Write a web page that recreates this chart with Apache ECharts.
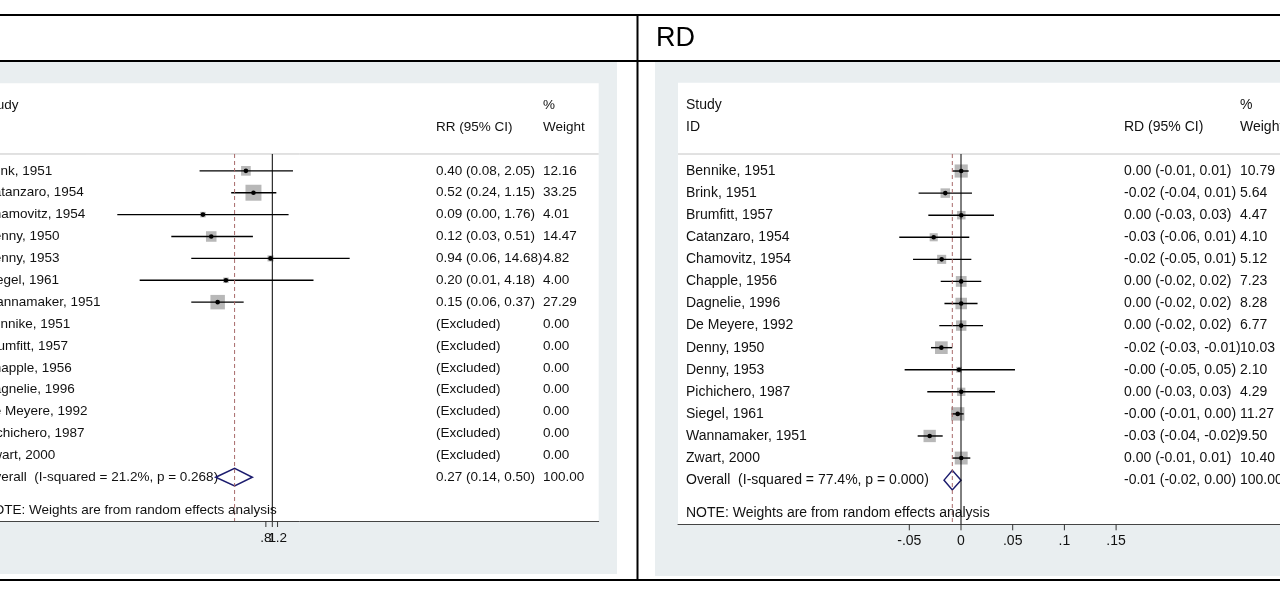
<!DOCTYPE html>
<html><head><meta charset="utf-8">
<script src="https://cdn.jsdelivr.net/npm/echarts@6/dist/echarts.min.js"></script>
<style>html,body{margin:0;padding:0;background:#fff}#c{width:1280px;height:596px}</style>
</head><body><div id="c"></div>
<script>
// ---------- RR panel data ----------
const rrStudies = ['Brink, 1951','Catanzaro, 1954','Chamovitz, 1954','Denny, 1950','Denny, 1953','Siegel, 1961','Wannamaker, 1951','Bennike, 1951','Brumfitt, 1957','Chapple, 1956','Dagnelie, 1996','De Meyere, 1992','Pichichero, 1987','Zwart, 2000'];
const rrEst    = [0.40, 0.52, 0.09, 0.12, 0.94, 0.20, 0.15, null, null, null, null, null, null, null];
const rrLow    = [0.08, 0.24, 0.0046, 0.03, 0.06, 0.01, 0.06, null, null, null, null, null, null, null];
const rrHigh   = [2.05, 1.15, 1.76, 0.51, 14.68, 4.18, 0.37, null, null, null, null, null, null, null];
const rrWeight = [12.16, 33.25, 4.01, 14.47, 4.82, 4.00, 27.29, 0, 0, 0, 0, 0, 0, 0];
const rrOverall = [0.27, 0.14, 0.50];           // estimate, low, high
const rrOverallLabel = 'Overall  (I-squared = 21.2%, p = 0.268)';
const rrTicks = [0.8, 1, 1.2];
const rrTickLabels = ['.8', '1', '1.2'];

// ---------- RD panel data ----------
const rdStudies = ['Bennike, 1951','Brink, 1951','Brumfitt, 1957','Catanzaro, 1954','Chamovitz, 1954','Chapple, 1956','Dagnelie, 1996','De Meyere, 1992','Denny, 1950','Denny, 1953','Pichichero, 1987','Siegel, 1961','Wannamaker, 1951','Zwart, 2000'];
const rdEst    = [0.0002, -0.0152, 0.0003, -0.0264, -0.0187, 0.0002, 0.0002, 0.0002, -0.0190, -0.0019, 0.0002, -0.0032, -0.0303, 0.0002];
const rdLow    = [-0.0080, -0.0410, -0.0316, -0.0597, -0.0464, -0.0196, -0.0160, -0.0210, -0.0290, -0.0545, -0.0326, -0.0090, -0.0419, -0.0084];
const rdHigh   = [0.0074, 0.0106, 0.0319, 0.0080, 0.0100, 0.0196, 0.0160, 0.0213, -0.0084, 0.0522, 0.0329, 0.0026, -0.0177, 0.0090];
const rdWeight = [10.79, 5.64, 4.47, 4.10, 5.12, 7.23, 8.28, 6.77, 10.03, 2.10, 4.29, 11.27, 9.50, 10.40];
const rdOverall = [-0.0084, -0.0164, 0.0];
const rdOverallLabel = 'Overall  (I-squared = 77.4%, p = 0.000)';
const rdTicks = [-0.05, 0, 0.05, 0.1, 0.15];
const rdTickLabels = ['-.05', '0', '.05', '.1', '.15'];

const noteText = 'NOTE: Weights are from random effects analysis';

// ---------- styling ----------
const FONT = 'Liberation Sans';
const TXT = '#111';
const fmt = v => v.toFixed(2);
const ciText = (e, l, h) => fmt(e) + ' (' + fmt(l) + ', ' + fmt(h) + ')';
const SEP_ROW = -0.77, BOTTOM_ROW = 16;

function panelSeries(gi, cfg) {
  const nullVal = cfg.nullVal;
  const txt = (text, x, y, align) => ({type: 'text', style: {text: text, x: x, y: y, fill: TXT, font: cfg.fs + 'px "' + FONT + '"', align: align || 'left', verticalAlign: 'middle'}});
  const rows = {
    type: 'custom', xAxisIndex: gi, yAxisIndex: gi, clip: false, z: 3,
    data: cfg.names.map((n, i) => [i]),
    renderItem(params, api) {
      const i = params.dataIndex, cs = params.coordSys;
      const y = api.coord([nullVal, i])[1];
      const ch = [];
      const e = cfg.est[i];
      if (e !== null) {
        const pe = api.coord([e, i])[0];
        const pl = api.coord([cfg.low[i], i])[0];
        const ph = api.coord([cfg.high[i], i])[0];
        const s = cfg.boxK * Math.sqrt(cfg.wt[i]);
        ch.push({type: 'rect', shape: {x: pe - s / 2, y: y - s / 2, width: s, height: s}, style: {fill: '#b8b8b8'}});
        ch.push({type: 'line', shape: {x1: pl, y1: y, x2: ph, y2: y}, style: {stroke: '#000', lineWidth: 1.4}});
        ch.push({type: 'circle', shape: {cx: pe, cy: y, r: 2.3}, style: {fill: '#000'}});
        ch.push(txt(ciText(e, cfg.low[i], cfg.high[i]), cs.x + cfg.cols.ci, y));
      } else {
        ch.push(txt('(Excluded)', cs.x + cfg.cols.ci, y));
      }
      ch.push(txt(cfg.names[i], cs.x + cfg.cols.label, y));
      ch.push(txt(fmt(cfg.wt[i]), cs.x + cfg.cols.wt, y));
      return {type: 'group', children: ch};
    }
  };
  const overall = {
    type: 'custom', xAxisIndex: gi, yAxisIndex: gi, clip: false, z: 3,
    data: [[cfg.names.length]],
    renderItem(params, api) {
      const r = cfg.names.length, cs = params.coordSys;
      const [oe, ol, oh] = cfg.overall;
      const y = api.coord([nullVal, r])[1];
      const xe = api.coord([oe, r])[0], xl = api.coord([ol, r])[0], xh = api.coord([oh, r])[0];
      const h = cfg.diamondH;
      return {type: 'group', children: [
        txt(cfg.overallLabel, cs.x + cfg.cols.label, y),
        {type: 'polygon', shape: {points: [[xl, y], [xe, y - h], [xh, y], [xe, y + h]]}, style: {fill: 'rgba(255,255,255,0)', stroke: '#1c1c6e', lineWidth: 1.5}, z2: 5},
        txt(ciText(oe, ol, oh), cs.x + cfg.cols.ci, y),
        txt('100.00', cs.x + cfg.cols.wt, y)
      ]};
    }
  };
  const decor = {
    type: 'custom', xAxisIndex: gi, yAxisIndex: gi, clip: false, z: 4,
    data: [[0]],
    renderItem(params, api) {
      const cs = params.coordSys;
      const yy = r => api.coord([nullVal, r])[1];
      const x0 = api.coord([nullVal, 0])[0];
      const xo = api.coord([cfg.overall[0], 0])[0];
      return {type: 'group', children: [
        {type: 'line', shape: {x1: cs.x, y1: yy(SEP_ROW), x2: cs.x + cs.width, y2: yy(SEP_ROW)}, style: {stroke: '#c4c4c4', lineWidth: 1}},
        {type: 'line', shape: {x1: x0, y1: yy(SEP_ROW), x2: x0, y2: yy(BOTTOM_ROW)}, style: {stroke: '#000', lineWidth: 1}},
        {type: 'line', shape: {x1: xo, y1: yy(SEP_ROW), x2: xo, y2: yy(BOTTOM_ROW)}, style: {stroke: '#a86a6a', lineWidth: 1, lineDash: [4, 3]}},
        txt('Study', cs.x + cfg.cols.label, yy(-3)),
        txt('ID', cs.x + cfg.cols.label, yy(-2)),
        txt('%', cs.x + cfg.cols.wt, yy(-3)),
        txt(cfg.ciHeader, cs.x + cfg.cols.ci, yy(-2)),
        txt('Weight', cs.x + cfg.cols.wt, yy(-2)),
        txt(noteText, cs.x + cfg.cols.label, yy(cfg.names.length + 1.5))
      ]};
    }
  };
  const ticks = {
    type: 'custom', xAxisIndex: gi, yAxisIndex: gi, clip: false, z: 4,
    data: cfg.ticks.map((v, i) => [v, i]),
    renderItem(params, api) {
      const i = params.dataIndex;
      const p = api.coord([cfg.ticks[i], BOTTOM_ROW]);
      return {type: 'group', children: [
        {type: 'line', shape: {x1: p[0], y1: p[1], x2: p[0], y2: p[1] + 6}, style: {stroke: '#333', lineWidth: 1}},
        txt(cfg.tickLabels[i], p[0], p[1] + 17, 'center')
      ]};
    }
  };
  return [rows, overall, decor, ticks];
}

const chart = echarts.init(document.getElementById('c'), null, {renderer: 'canvas'});
const yAx = gi => ({type: 'value', gridIndex: gi, inverse: true, min: -4, max: BOTTOM_ROW, show: false});
const xBase = {axisTick: {show: false}, axisLabel: {show: false}, splitLine: {show: false}, axisLine: {show: true, onZero: false, lineStyle: {color: '#444', width: 1}}};

chart.setOption({
  animation: false,
  backgroundColor: '#fff',
  grid: [
    {left: 0, top: 83.3, width: 598.7, height: 437.7, show: true, backgroundColor: '#fff', borderWidth: 0},
    {left: 678, top: 82.7, width: 602, height: 441.6, show: true, backgroundColor: '#fff', borderWidth: 0}
  ],
  xAxis: [
    Object.assign({type: 'log', logBase: Math.E, gridIndex: 0, min: Math.exp(-272.3 / 28.8), max: Math.exp((598.7 - 272.3) / 28.8)}, xBase),
    Object.assign({type: 'value', gridIndex: 1, min: (678 - 961) / 1034, max: (1280 - 961) / 1034}, xBase)
  ],
  yAxis: [yAx(0), yAx(1)],
  graphic: [
    {type: 'rect', z: -1, shape: {x: 0, y: 62, width: 617, height: 512}, style: {fill: '#e9eef0'}},
    {type: 'rect', z: -1, shape: {x: 655, y: 62, width: 625, height: 514}, style: {fill: '#e9eef0'}},
    {type: 'line', z: 100, shape: {x1: 0, y1: 15, x2: 1280, y2: 15}, style: {stroke: '#000', lineWidth: 2}},
    {type: 'line', z: 100, shape: {x1: 0, y1: 61, x2: 1280, y2: 61}, style: {stroke: '#000', lineWidth: 2}},
    {type: 'line', z: 100, shape: {x1: 0, y1: 580, x2: 1280, y2: 580}, style: {stroke: '#000', lineWidth: 2}},
    {type: 'line', z: 100, shape: {x1: 637.5, y1: 14, x2: 637.5, y2: 581}, style: {stroke: '#000', lineWidth: 2}},
    {type: 'text', z: 100, style: {text: 'RD', x: 656, y: 39, fill: '#000', font: '27px "Liberation Sans"', verticalAlign: 'middle'}}
  ],
  series: [].concat(
    panelSeries(0, {nullVal: 1, fs: 13.5, names: rrStudies, est: rrEst, low: rrLow, high: rrHigh, wt: rrWeight, overall: rrOverall, overallLabel: rrOverallLabel, ticks: rrTicks, tickLabels: rrTickLabels, ciHeader: 'RR (95% CI)', cols: {label: -16, ci: 436, wt: 543}, boxK: 2.77, diamondH: 8.8}),
    panelSeries(1, {nullVal: 0, fs: 14, names: rdStudies, est: rdEst, low: rdLow, high: rdHigh, wt: rdWeight, overall: rdOverall, overallLabel: rdOverallLabel, ticks: rdTicks, tickLabels: rdTickLabels, ciHeader: 'RD (95% CI)', cols: {label: 8, ci: 446, wt: 562}, boxK: 4.0, diamondH: 9.8})
  )
});
</script></body></html>
